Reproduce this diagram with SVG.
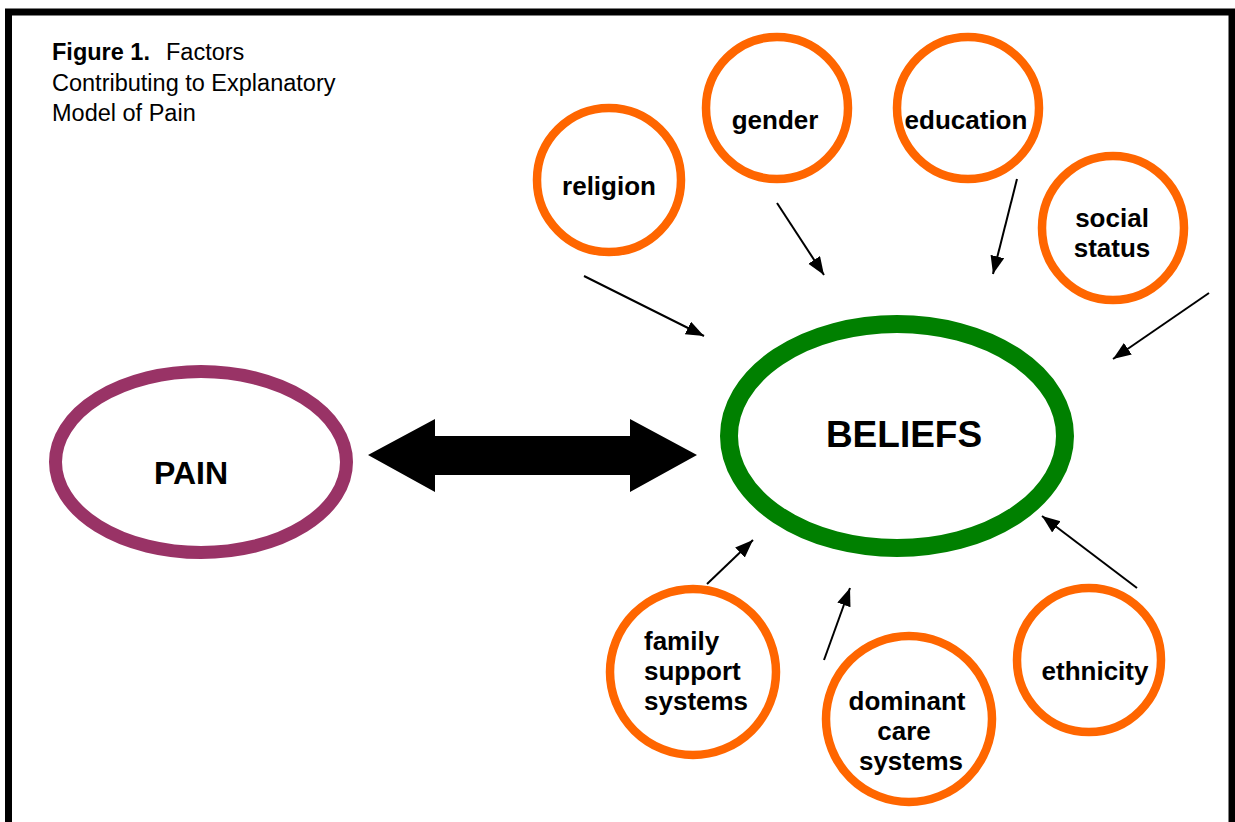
<svg xmlns="http://www.w3.org/2000/svg" width="1235" height="822" viewBox="0 0 1235 822">
<style>
.factor ellipse{fill:#fff;stroke:#FF6600;stroke-width:8.5}
.lbl{font-family:"Liberation Sans",Arial,sans-serif;font-weight:bold;font-size:26px;fill:#000;text-anchor:middle}
.title{font-family:"Liberation Sans",Arial,sans-serif;font-size:23.5px;fill:#000}
.conn line{stroke:#000;stroke-width:2;marker-end:url(#ah)}
</style>
<defs>
<marker id="ah" markerUnits="userSpaceOnUse" markerWidth="20" markerHeight="16" refX="18" refY="7" orient="auto">
<path d="M0,0 L18,7 L0,14 z" fill="#000"/>
</marker>
</defs>
<rect x="0" y="0" width="1235" height="822" fill="#fff"/>
<rect x="8.5" y="12" width="1223.5" height="900" fill="none" stroke="#000" stroke-width="7"/>
<g id="title">
<text class="title" x="52" y="60"><tspan font-weight="bold">Figure 1.</tspan><tspan x="166">Factors</tspan></text>
<text class="title" x="52" y="91">Contributing to Explanatory</text>
<text class="title" x="52" y="121">Model of Pain</text>
</g>
<g id="pain">
<ellipse cx="201" cy="462" rx="145.5" ry="90.5" fill="#fff" stroke="#993366" stroke-width="13"/>
<text class="lbl" x="191" y="484" style="font-size:32px">PAIN</text>
</g>
<g id="beliefs">
<ellipse cx="897" cy="436" rx="168" ry="112" fill="#fff" stroke="#008000" stroke-width="18"/>
<text class="lbl" x="904" y="447" style="font-size:37px">BELIEFS</text>
</g>
<g id="link">
<polygon points="368,455 435,419 435,436 630,436 630,419 697,455 630,492 630,475 435,475 435,492" fill="#000"/>
</g>
<g id="religion" class="factor">
<ellipse cx="609" cy="180" rx="72" ry="72"/>
<text class="lbl" x="609" y="195">religion</text>
</g>
<g id="gender" class="factor">
<ellipse cx="777" cy="108" rx="71" ry="71"/>
<text class="lbl" x="775" y="129">gender</text>
</g>
<g id="education" class="factor">
<ellipse cx="968" cy="108" rx="71" ry="71"/>
<text class="lbl" x="966" y="129">education</text>
</g>
<g id="social-status" class="factor">
<ellipse cx="1113" cy="228" rx="71" ry="72"/>
<text class="lbl" x="1112" y="227">social</text>
<text class="lbl" x="1112" y="257">status</text>
</g>
<g id="family-support-systems" class="factor">
<ellipse cx="693" cy="672" rx="83" ry="83"/>
<text class="lbl" x="644" y="650" style="text-anchor:start">family</text>
<text class="lbl" x="644" y="680" style="text-anchor:start">support</text>
<text class="lbl" x="644" y="710" style="text-anchor:start">systems</text>
</g>
<g id="dominant-care-systems" class="factor">
<ellipse cx="909" cy="719" rx="83" ry="83"/>
<text class="lbl" x="907" y="710">dominant</text>
<text class="lbl" x="904" y="740">care</text>
<text class="lbl" x="911" y="770">systems</text>
</g>
<g id="ethnicity" class="factor">
<ellipse cx="1089" cy="660" rx="72" ry="72"/>
<text class="lbl" x="1095" y="680">ethnicity</text>
</g>
<g id="connectors" class="conn">
<line x1="584" y1="276" x2="704" y2="336"/>
<line x1="777" y1="203" x2="824" y2="275"/>
<line x1="1017" y1="179" x2="993" y2="274"/>
<line x1="1209" y1="293" x2="1113" y2="359"/>
<line x1="707" y1="584" x2="753" y2="540"/>
<line x1="824" y1="660" x2="850" y2="588"/>
<line x1="1137" y1="588" x2="1042" y2="516"/>
</g>
</svg>
